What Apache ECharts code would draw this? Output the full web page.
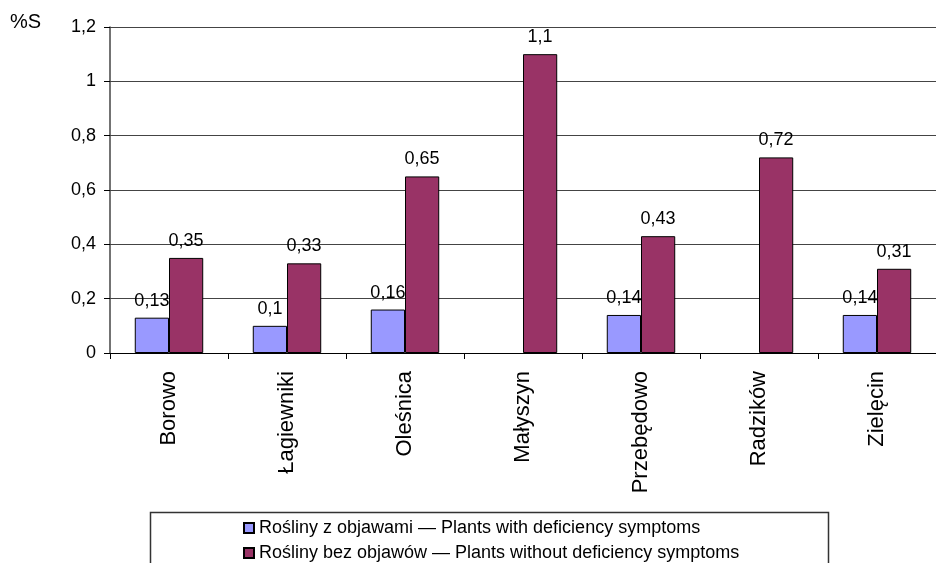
<!DOCTYPE html>
<html>
<head>
<meta charset="utf-8">
<script src="https://cdn.jsdelivr.net/npm/echarts@6/dist/echarts.min.js"></script>
<style>
  html, body { margin: 0; padding: 0; background: #fff; }
  #chart { width: 936px; height: 563px; }
</style>
</head>
<body>
<div id="chart"></div>
<script>
// Sulphur content (%S) at each site
const sites = ['Borowo', 'Łagiewniki', 'Oleśnica', 'Małyszyn', 'Przebędowo', 'Radzików', 'Zielęcin'];
const withSymptoms = [0.13, 0.1, 0.16, null, 0.14, null, 0.14];
const withoutSymptoms = [0.35, 0.33, 0.65, 1.1, 0.43, 0.72, 0.31];
const seriesNames = [
  'Rośliny z objawami — Plants with deficiency symptoms',
  'Rośliny bez objawów — Plants without deficiency symptoms'
];
const yTicks = { min: 0, max: 1.2, step: 0.2 };

const FONT = 'Arial, "Liberation Sans", sans-serif';
const comma = v => String(+v.toFixed(2)).replace('.', ',');

const chart = echarts.init(document.getElementById('chart'), null, { renderer: 'canvas' });

const valueLabel = {
  show: true,
  position: 'top',
  distance: 8,
  color: '#000',
  fontFamily: FONT,
  fontSize: 18,
  formatter: p => comma(p.value)
};

chart.setOption({
  animation: false,
  backgroundColor: '#fff',
  textStyle: { fontFamily: FONT },
  grid: { left: 110, top: 27, bottom: 210, right: -12, containLabel: false },
  graphic: [
    {
      type: 'text', left: 10, top: 12,
      style: { text: '%S', font: '20px ' + FONT, fill: '#000' }
    },
    {
      type: 'rect', z: 0,
      shape: { x: 150.5, y: 512.5, width: 678, height: 80 },
      style: { fill: 'none', stroke: '#333', lineWidth: 1.5 }
    }
  ],
  legend: {
    orient: 'vertical',
    left: 238,
    top: 514,
    height: 70,
    width: 560,
    itemWidth: 10,
    itemHeight: 10,
    itemGap: 7,
    icon: 'rect',
    textStyle: { fontFamily: FONT, fontSize: 18, color: '#000', lineHeight: 18 },
    data: seriesNames
  },
  xAxis: {
    type: 'category',
    data: sites,
    axisLine: { lineStyle: { color: '#000', width: 1 } },
    axisTick: { show: true, length: 6, lineStyle: { color: '#000' } },
    axisLabel: { rotate: 90, margin: 18, fontSize: 22, color: '#000', fontFamily: FONT, interval: 0 }
  },
  yAxis: {
    type: 'value',
    min: yTicks.min,
    max: yTicks.max,
    interval: yTicks.step,
    axisLine: { show: true, lineStyle: { color: '#444', width: 1.5 } },
    axisTick: { show: true, length: 6, lineStyle: { color: '#000' } },
    axisLabel: { margin: 14, fontSize: 18, color: '#000', fontFamily: FONT, formatter: v => comma(v) },
    splitLine: { show: true, lineStyle: { color: '#444', width: 1 } }
  },
  series: [
    {
      name: seriesNames[0],
      type: 'bar',
      data: withSymptoms,
      barGap: '0%',
      barCategoryGap: '42%',
      itemStyle: { color: '#9999FF', borderColor: '#000', borderWidth: 1 },
      label: valueLabel
    },
    {
      name: seriesNames[1],
      type: 'bar',
      data: withoutSymptoms,
      barGap: '0%',
      barCategoryGap: '42%',
      itemStyle: { color: '#993366', borderColor: '#000', borderWidth: 1 },
      label: valueLabel
    }
  ]
});
</script>
</body>
</html>
